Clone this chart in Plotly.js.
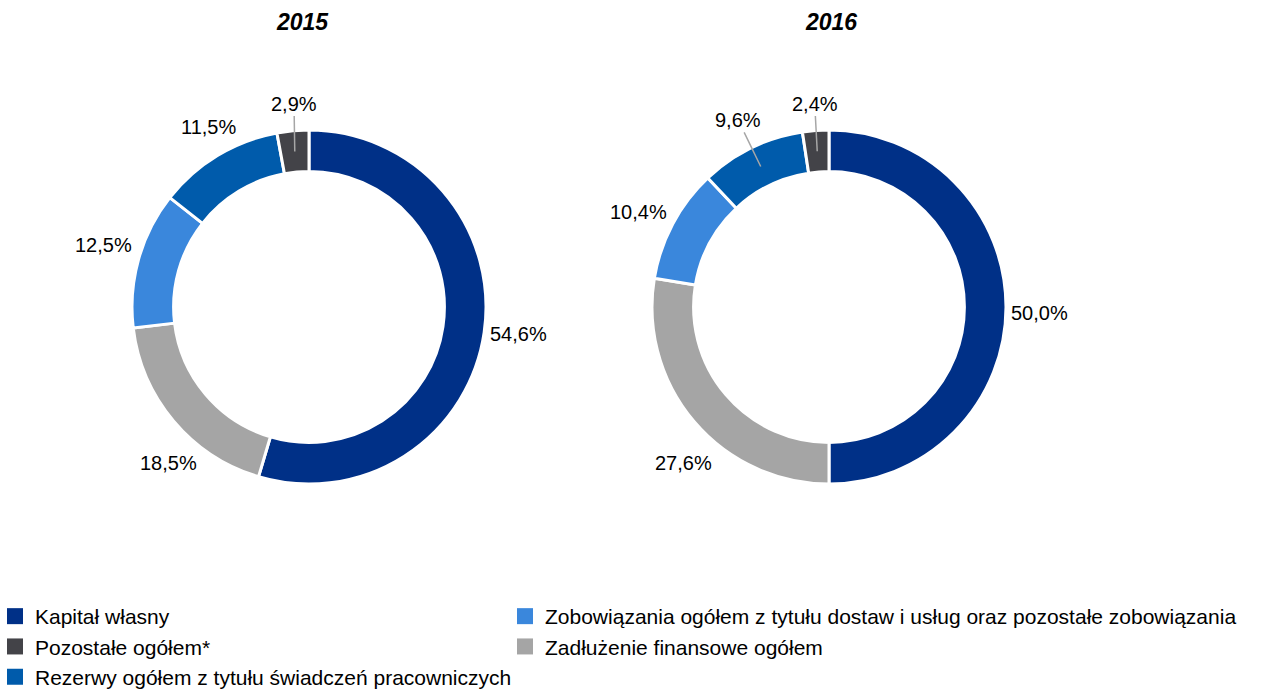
<!DOCTYPE html>
<html>
<head>
<meta charset="utf-8">
<script src="https://cdn.plot.ly/plotly-3.0.1.min.js"></script>
<style>html,body{margin:0;padding:0;background:#fff;}#chart{width:1274px;height:690px;}</style>
</head>
<body>
<div id="chart"></div>
<script>
// Slice order (clockwise from 12 o'clock)
const sliceLabels = [
  "Kapitał własny",
  "Zadłużenie finansowe ogółem",
  "Zobowiązania ogółem z tytułu dostaw i usług oraz pozostałe zobowiązania",
  "Rezerwy ogółem z tytułu świadczeń pracowniczych",
  "Pozostałe ogółem*"
];
const values2015 = [54.6, 18.5, 12.5, 11.5, 2.9];
const values2016 = [50.0, 27.6, 10.4, 9.6, 2.4];
const years = ["2015", "2016"];

// Legend columns
const legendCol1 = ["Kapitał własny", "Pozostałe ogółem*", "Rezerwy ogółem z tytułu świadczeń pracowniczych"];
const legendCol2 = ["Zobowiązania ogółem z tytułu dostaw i usług oraz pozostałe zobowiązania", "Zadłużenie finansowe ogółem"];

const colorMap = {
  "Kapitał własny": "#003087",
  "Zadłużenie finansowe ogółem": "#a5a5a5",
  "Zobowiązania ogółem z tytułu dostaw i usług oraz pozostałe zobowiązania": "#3a87dc",
  "Rezerwy ogółem z tytułu świadczeń pracowniczych": "#005bab",
  "Pozostałe ogółem*": "#434348"
};

const font = "Arial, 'Liberation Sans', sans-serif";
const W = 1274, H = 690;

// Pie geometry (layout)
const pies = [
  {cx: 309, cy: 307, r: 177},
  {cx: 829, cy: 307, r: 177}
];
const holeFrac = 0.765;

// Label placement (layout): angle nudge in degrees, label distance in px, leader line flag
const labelPlacement = [
  [{d: -1, r: 211}, {d: -8, r: 210}, {d: 1, r: 215}, {d: 1.8, r: 206}, {d: 1, r: 204, leader: true}],
  [{d: 1.6, r: 211}, {d: -6.7, r: 213}, {d: -1.6, r: 213}, {d: 0, r: 208, leader: true}, {d: 0.3, r: 204, leader: true}]
];

function pieTrace(vals, p) {
  return {
    type: "pie",
    labels: sliceLabels,
    values: vals,
    sort: false,
    direction: "clockwise",
    rotation: 0,
    hole: holeFrac,
    domain: {x: [(p.cx - p.r) / W, (p.cx + p.r) / W], y: [(H - p.cy - p.r) / H, (H - p.cy + p.r) / H]},
    marker: {colors: sliceLabels.map(l => colorMap[l]), line: {color: "#ffffff", width: 3}},
    textinfo: "none",
    showlegend: false,
    hoverinfo: "label+value"
  };
}

const allValues = [values2015, values2016];
const data = allValues.map((v, i) => pieTrace(v, pies[i]));

legendCol1.forEach(l => data.push({
  type: "scatter", mode: "markers", x: [null], y: [null], name: l,
  marker: {symbol: "square", size: 16, color: colorMap[l]}, legend: "legend", hoverinfo: "skip"
}));
legendCol2.forEach(l => data.push({
  type: "scatter", mode: "markers", x: [null], y: [null], name: l,
  marker: {symbol: "square", size: 16, color: colorMap[l]}, legend: "legend2", hoverinfo: "skip"
}));

// Percentage labels computed from the data
const annotations = [];
allValues.forEach((vals, i) => {
  const p = pies[i];
  const total = vals.reduce((a, b) => a + b, 0);
  let cum = 0;
  vals.forEach((v, j) => {
    const midDeg = (cum + v / 2) / total * 360;
    cum += v;
    const pl = labelPlacement[i][j];
    const a = (midDeg + pl.d) * Math.PI / 180;
    const lx = p.cx + pl.r * Math.sin(a);
    const ly = p.cy - pl.r * Math.cos(a);
    const txt = v.toFixed(1).replace(".", ",") + "%";
    const base = {
      text: txt, xref: "paper", yref: "paper",
      font: {family: font, size: 20, color: "#000000"}
    };
    if (pl.leader) {
      const am = midDeg * Math.PI / 180;
      const rm = p.r * (1 + holeFrac) / 2;
      const tx = p.cx + rm * Math.sin(am);
      const ty = p.cy - rm * Math.cos(am);
      annotations.push(Object.assign(base, {
        x: tx / W, y: (H - ty) / H,
        showarrow: true, arrowhead: 0, arrowwidth: 1.5, arrowcolor: "#a6a6a6",
        ax: lx - tx, ay: ly - ty, standoff: 0, startstandoff: 0
      }));
    } else {
      annotations.push(Object.assign(base, {
        x: lx / W, y: (H - ly) / H, xanchor: "center", yanchor: "middle", showarrow: false
      }));
    }
  });
});

const titleX = [302, 831];
years.forEach((y, i) => annotations.push({
  text: "<b><i>" + y + "</i></b>",
  xref: "paper", yref: "paper",
  x: titleX[i] / W, y: (H - 22) / H,
  xanchor: "center", yanchor: "middle",
  showarrow: false,
  font: {family: font, size: 23, color: "#000000"}
}));

const legendCommon = {
  orientation: "v",
  yanchor: "top",
  y: (H - 596) / H,
  xanchor: "left",
  font: {family: font, size: 21, color: "#000000"},
  bgcolor: "rgba(0,0,0,0)",
  traceorder: "normal",
  itemclick: false
};

const layout = {
  width: W,
  height: H,
  margin: {l: 0, r: 0, t: 0, b: 0, autoexpand: false},
  paper_bgcolor: "#ffffff",
  plot_bgcolor: "#ffffff",
  font: {family: font, color: "#000000"},
  xaxis: {visible: false},
  yaxis: {visible: false},
  showlegend: true,
  legend: Object.assign({}, legendCommon, {x: -5 / W}),
  legend2: Object.assign({}, legendCommon, {x: 505 / W}),
  annotations: annotations
};

Plotly.newPlot("chart", data, layout, {displayModeBar: false, staticPlot: true});
</script>
</body>
</html>
